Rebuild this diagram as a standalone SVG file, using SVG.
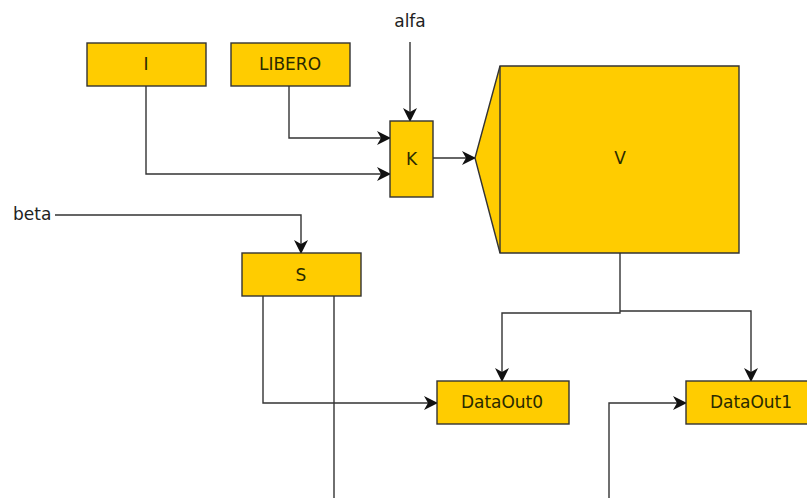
<svg xmlns="http://www.w3.org/2000/svg" width="807" height="498" viewBox="0 0 807 498">
<defs>
<style>
.box{fill:#FFCC00;stroke:#333;stroke-width:1.4}
.lbl{font-family:"DejaVu Sans",sans-serif;font-size:17px;fill:#2a2a00;text-anchor:middle}
.free{font-family:"DejaVu Sans",sans-serif;font-size:17px;fill:#222}
.wire{fill:none;stroke:#333;stroke-width:1.4}
.arr{marker-end:url(#ah)}
</style>
<marker id="ah" viewBox="0 0 14 14" refX="13" refY="7" markerWidth="14" markerHeight="14" markerUnits="userSpaceOnUse" orient="auto">
<path d="M0,0 L14,7 L0,14 L4,7 z" fill="#111"/>
</marker>
</defs>
<rect width="807" height="498" fill="#fff"/>
<g id="connectors">
<path class="wire arr" d="M410,42 V121"/>
<path class="wire arr" d="M289,86 V138 H390"/>
<path class="wire arr" d="M146,86 V174 H390"/>
<path class="wire arr" d="M433,158 H475"/>
<path class="wire arr" d="M55,215 H301 V253"/>
<path class="wire arr" d="M620,253 V313 H502 V381"/>
<path class="wire arr" d="M620,311 H751 V381"/>
<path class="wire arr" d="M263,296 V403 H437"/>
<path class="wire" d="M334,296 V498"/>
<path class="wire arr" d="M609,498 V403 H686"/>
</g>
<g id="alfa"><text class="free" x="410" y="27" text-anchor="middle">alfa</text></g>
<g id="beta"><text class="free" x="13" y="220">beta</text></g>
<g id="node-I"><rect class="box" x="87" y="43" width="119" height="43"/><text class="lbl" x="146" y="70">I</text></g>
<g id="node-LIBERO"><rect class="box" x="231" y="43" width="119" height="43"/><text class="lbl" x="290" y="70">LIBERO</text></g>
<g id="node-K"><rect class="box" x="390" y="121" width="43" height="76"/><text class="lbl" x="411.5" y="165">K</text></g>
<g id="node-V"><path class="box" d="M500,66 H739 V253 H500 L475,158 Z"/><path class="wire" d="M500,66 V253"/><text class="lbl" x="620" y="164">V</text></g>
<g id="node-S"><rect class="box" x="242" y="253" width="119" height="43"/><text class="lbl" x="301" y="281">S</text></g>
<g id="node-DataOut0"><rect class="box" x="437" y="381" width="132" height="43"/><text class="lbl" x="502" y="408">DataOut0</text></g>
<g id="node-DataOut1"><rect class="box" x="686" y="381" width="132" height="43"/><text class="lbl" x="751" y="408">DataOut1</text></g>
</svg>
